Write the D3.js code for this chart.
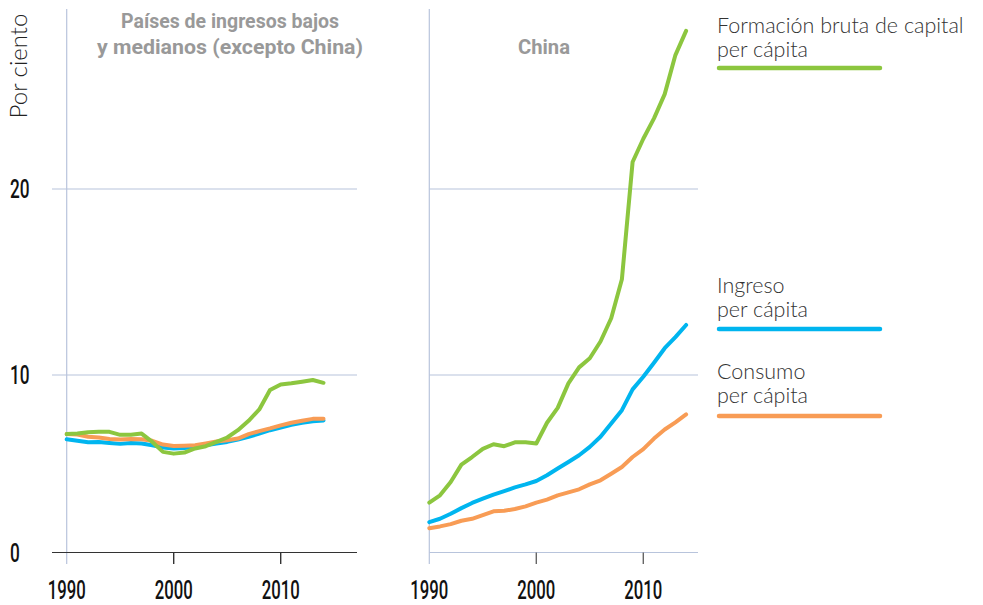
<!DOCTYPE html>
<html>
<head>
<meta charset="utf-8">
<script src="https://cdn.jsdelivr.net/npm/d3@7"></script>
<style>
  body { margin: 0; background: #fff; }
  svg { display: block; }
</style>
</head>
<body>
<div class="card"></div>
<script>
var years = d3.range(1990, 2015);

// Países de ingresos bajos y medianos (excepto China)
var restCapital = [6.67, 6.7, 6.78, 6.8, 6.8, 6.63, 6.63, 6.7, 6.23, 5.67, 5.57, 5.63, 5.86, 5.99, 6.23, 6.48, 6.89, 7.42, 8.06, 9.15, 9.47, 9.53, 9.62, 9.72, 9.56];
var restIngreso = [6.38, 6.29, 6.21, 6.23, 6.17, 6.12, 6.17, 6.14, 6.04, 5.91, 5.86, 5.89, 5.95, 6.04, 6.14, 6.23, 6.36, 6.52, 6.7, 6.89, 7.04, 7.19, 7.31, 7.4, 7.44];
var restConsumo = [6.67, 6.65, 6.52, 6.48, 6.4, 6.36, 6.4, 6.38, 6.29, 6.08, 6.0, 6.02, 6.04, 6.14, 6.25, 6.33, 6.42, 6.67, 6.84, 6.99, 7.16, 7.31, 7.42, 7.53, 7.53];

// China
var chinaCapital = [2.81, 3.22, 3.97, 4.95, 5.38, 5.84, 6.1, 5.99, 6.21, 6.21, 6.14, 7.31, 8.15, 9.53, 10.41, 10.9, 11.8, 13.05, 15.15, 21.45, 22.7, 23.8, 25.1, 27.2, 28.5];
var chinaIngreso = [1.71, 1.9, 2.18, 2.5, 2.79, 3.03, 3.26, 3.46, 3.67, 3.84, 4.03, 4.35, 4.73, 5.1, 5.48, 5.95, 6.52, 7.27, 8.02, 9.19, 9.9, 10.66, 11.44, 12.04, 12.69];
var chinaConsumo = [1.37, 1.47, 1.6, 1.79, 1.9, 2.11, 2.32, 2.35, 2.45, 2.6, 2.81, 2.98, 3.22, 3.39, 3.56, 3.84, 4.07, 4.44, 4.82, 5.38, 5.82, 6.42, 6.93, 7.33, 7.78];

var yTicks = [0, 10, 20];
var xTicks = [1990, 2000, 2010];

var panelTitles = [["Países de ingresos bajos", "y medianos (excepto China)"], ["China"]];
var legendLabels = [["Formación bruta de capital", "per cápita"], ["Ingreso", "per cápita"], ["Consumo", "per cápita"]];
var colors = ["#8cc63f", "#00b5ef", "#f89c55"];

var width = 983, height = 605;

var svg = d3.select(".card").append("svg")
    .attr("width", width)
    .attr("height", height);

// shared y scale (the original grid is slightly uneven)
var y = d3.scaleLinear().domain([0, 10, 20]).range([552.5, 375, 189]);

var panels = [
    { x0: 66.7, gridLeft: 52, gridRight: 357, zeroColor: "#333", tickColor: "#333",
      title: panelTitles[0], titleX: 230, titleW: [218, 266],
      series: [restIngreso, restConsumo, restCapital] },
    { x0: 429.3, gridLeft: 429.3, gridRight: 698, zeroColor: "#b8c4dc", tickColor: "#666",
      title: panelTitles[1], titleX: 544, titleW: [52],
      series: [chinaIngreso, chinaConsumo, chinaCapital] }
];
var seriesColors = [colors[1], colors[2], colors[0]];

panels.forEach(function(p) {
    var x = d3.scaleLinear().domain([1990, 2010]).range([p.x0, p.x0 + 214]);
    var g = svg.append("g");

    // grid lines
    g.selectAll(".grid").data(yTicks.filter(function(d) { return d > 0; })).enter().append("line")
        .attr("x1", p.gridLeft).attr("x2", p.gridRight)
        .attr("y1", function(d) { return y(d); }).attr("y2", function(d) { return y(d); })
        .attr("stroke", "#b8c4dc").attr("stroke-width", 1.2);

    // vertical axis
    g.append("line")
        .attr("x1", x(1990)).attr("x2", x(1990))
        .attr("y1", 9).attr("y2", 564)
        .attr("stroke", "#b8c4dc").attr("stroke-width", 1.2);

    // zero line
    g.append("line")
        .attr("x1", p.gridLeft).attr("x2", p.gridRight)
        .attr("y1", y(0)).attr("y2", y(0))
        .attr("stroke", p.zeroColor).attr("stroke-width", 1.2);

    // x ticks
    g.selectAll(".tick").data(xTicks.slice(1)).enter().append("line")
        .attr("x1", function(d) { return x(d); }).attr("x2", function(d) { return x(d); })
        .attr("y1", y(0)).attr("y2", 564)
        .attr("stroke", p.tickColor).attr("stroke-width", 1.4);

    g.selectAll(".xlab").data(xTicks).enter().append("text")
        .attr("x", function(d) { return x(d); })
        .attr("y", 599)
        .attr("text-anchor", "middle")
        .attr("font-family", "Roboto")
        .attr("font-weight", 500)
        .attr("font-size", 25)
        .attr("fill", "#111")
        .attr("textLength", 38)
        .attr("lengthAdjust", "spacingAndGlyphs")
        .text(function(d) { return d; });

    // title
    g.append("text")
        .attr("text-anchor", "middle")
        .attr("font-family", "Roboto")
        .attr("font-weight", "bold")
        .attr("font-size", 20)
        .attr("fill", "#999")
        .selectAll("tspan").data(p.title).enter().append("tspan")
        .attr("x", p.titleX)
        .attr("y", function(d, i) { return (p.title.length == 1 ? 54 : 28) + i * 26; })
        .attr("textLength", function(d, i) { return p.titleW[i]; })
        .attr("lengthAdjust", "spacingAndGlyphs")
        .text(function(d) { return d; });

    var line = d3.line()
        .x(function(d, i) { return x(years[i]); })
        .y(function(d) { return y(d); });

    g.selectAll(".series").data(p.series).enter().append("path")
        .attr("d", line)
        .attr("fill", "none")
        .attr("stroke", function(d, i) { return seriesColors[i]; })
        .attr("stroke-width", 4)
        .attr("stroke-linejoin", "round")
        .attr("stroke-linecap", "round");
});

// y tick labels
svg.selectAll(".ylab").data(yTicks).enter().append("text")
    .attr("x", 10)
    .attr("y", function(d) { return y(d) + 9; })
    .attr("font-family", "Roboto")
    .attr("font-weight", 500)
    .attr("font-size", 25)
    .attr("fill", "#111")
    .attr("textLength", function(d) { return String(d).length * 9.8; })
    .attr("lengthAdjust", "spacingAndGlyphs")
    .text(function(d) { return d; });

// y axis title
svg.append("text")
    .attr("transform", "translate(27,66) rotate(-90)")
    .attr("text-anchor", "middle")
    .attr("font-family", "Lato")
    .attr("font-weight", 300)
    .attr("font-size", 24)
    .attr("fill", "#222")
    .text("Por ciento");

// legend
var legendTop = [33, 293, 379];
var legendLineY = [68, 329, 416];
legendLabels.forEach(function(lab, i) {
    svg.append("text")
        .attr("font-family", "Lato")
        .attr("font-weight", 300)
        .attr("font-size", 21.5)
        .attr("fill", "#333")
        .selectAll("tspan").data(lab).enter().append("tspan")
        .attr("x", 717)
        .attr("y", function(d, j) { return legendTop[i] + j * 24; })
        .text(function(d) { return d; });
    svg.append("line")
        .attr("x1", 719).attr("x2", 880)
        .attr("y1", legendLineY[i]).attr("y2", legendLineY[i])
        .attr("stroke", colors[i])
        .attr("stroke-width", 4.5)
        .attr("stroke-linecap", "round");
});
</script>
</body>
</html>
